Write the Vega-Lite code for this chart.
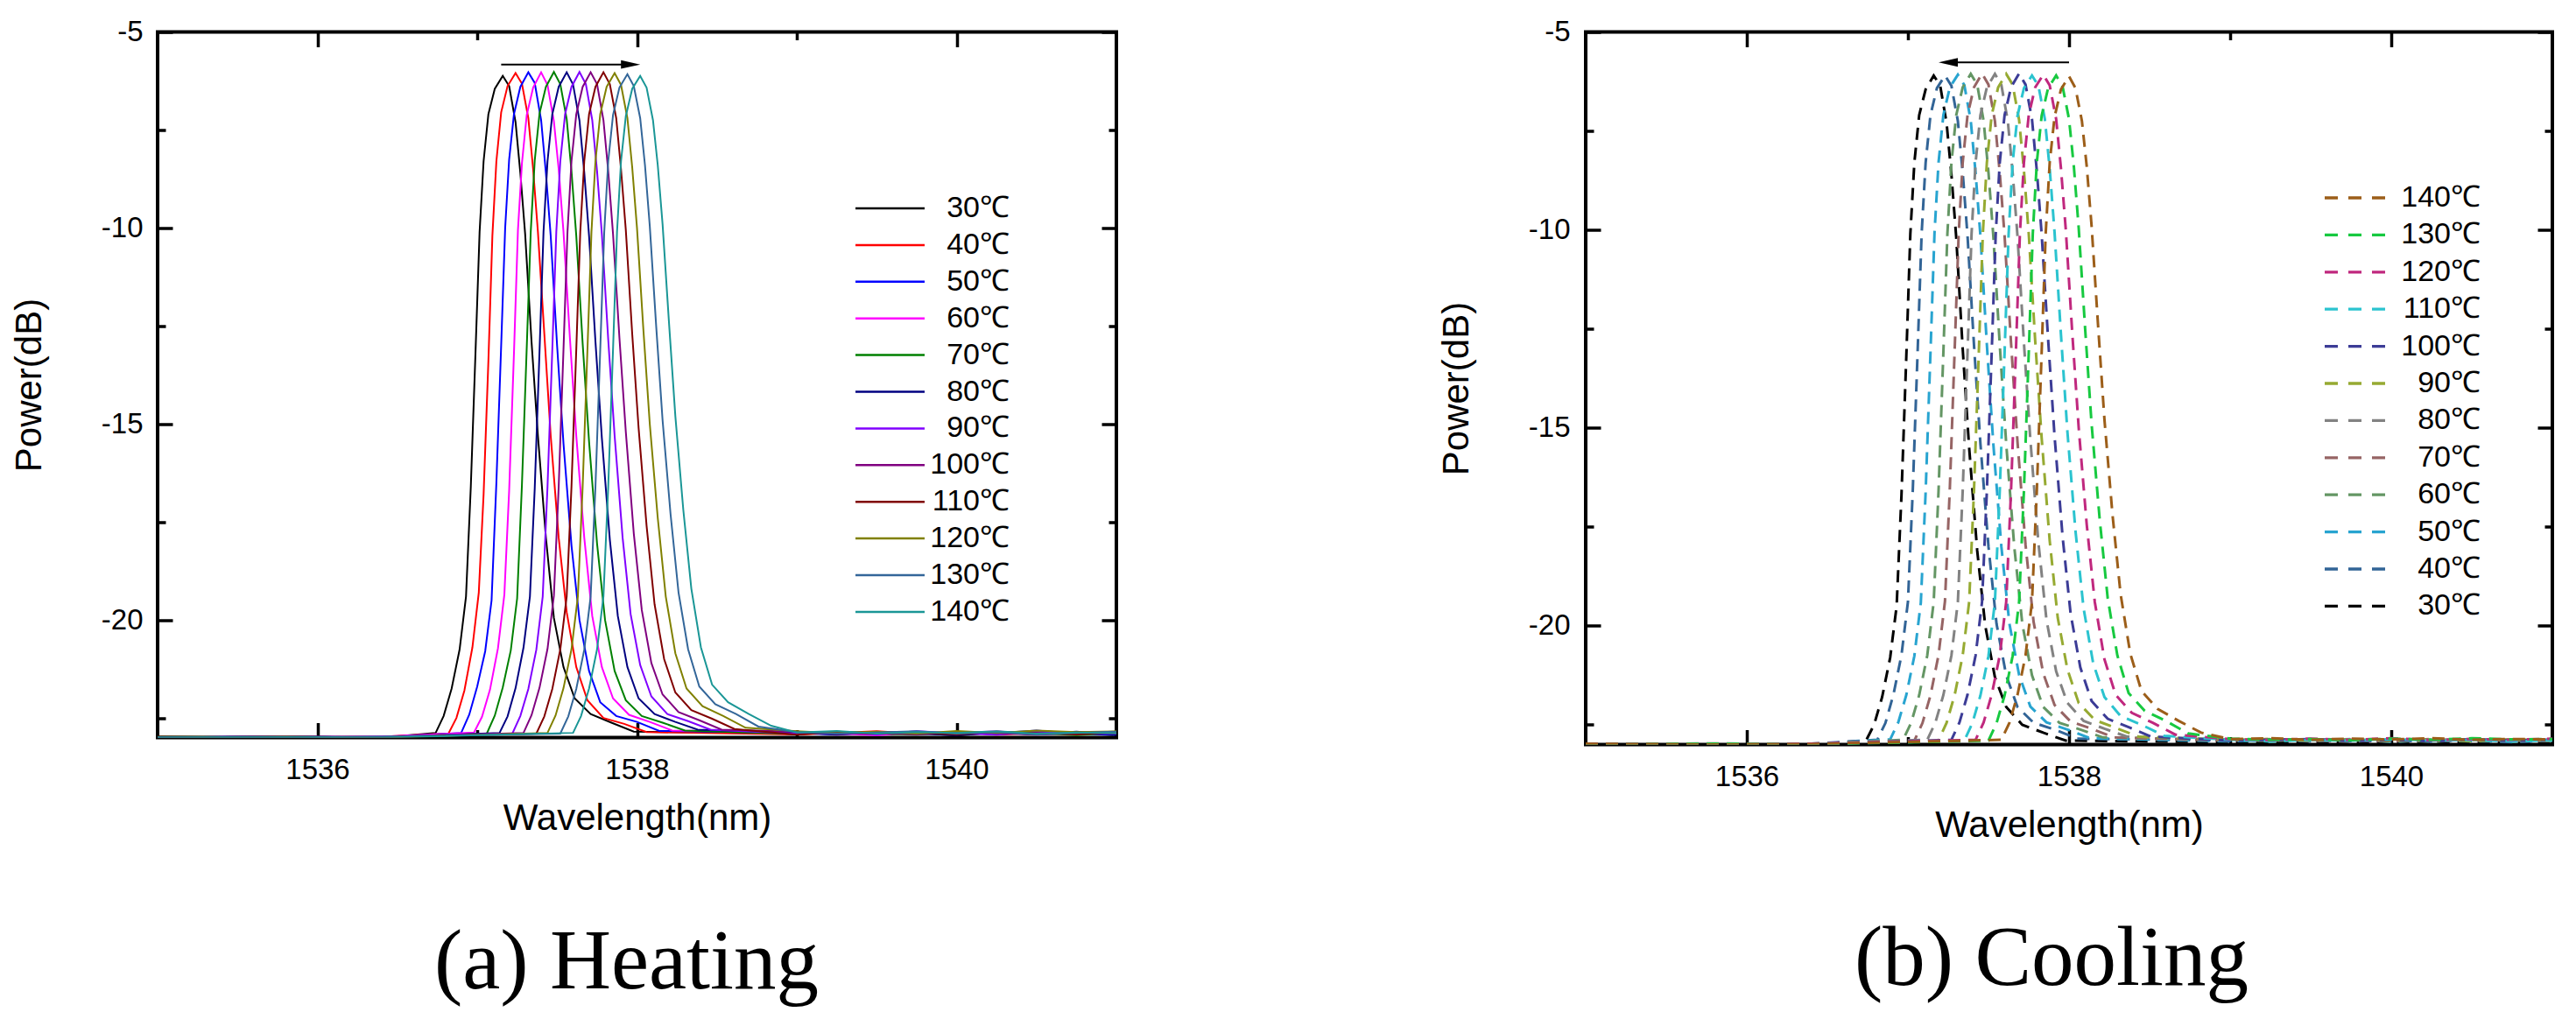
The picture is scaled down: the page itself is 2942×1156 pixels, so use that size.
{
"$schema":"https://vega.github.io/schema/vega-lite/v6.json",
"background":"white",
"padding":{"left":10,"top":18.5,"right":5,"bottom":5},
"spacing":361,
"config":{
 "view":{"stroke":"black","strokeWidth":4},
 "axis":{"domain":false,"grid":false,"tickColor":"black","tickWidth":3.5,"labelFont":"Liberation Sans","labelFontSize":33,"labelColor":"black","titleFont":"Liberation Sans","titleFontSize":42,"titleFontWeight":"normal","titleColor":"black","labelFlush":false,"labelOverlap":false},
 "legend":{"labelFont":"Liberation Sans","labelColor":"black"}
},
"resolve":{"scale":{"color":"independent"}},
"datasets":{
"arrA":[{"x1":1537.15,"x2":1537.93,"xh":1537.96,"y":-5.83}],
"arrB":[{"x1":1537.28,"x2":1538.0,"xh":1537.25,"y":-5.77}],
"heat":[
{"t":"30℃","w":1535.0,"p":-23.0},{"t":"30℃","w":1535.8,"p":-22.98},{"t":"30℃","w":1536.4,"p":-23.0},
{"t":"30℃","w":1536.74,"p":-22.88},{"t":"30℃","w":1536.79,"p":-22.45},{"t":"30℃","w":1536.84,"p":-21.75},{"t":"30℃","w":1536.89,"p":-20.75},{"t":"30℃","w":1536.93,"p":-19.4},{"t":"30℃","w":1536.96,"p":-16.6},{"t":"30℃","w":1536.99,"p":-13.1},{"t":"30℃","w":1537.015,"p":-10.1},{"t":"30℃","w":1537.04,"p":-8.3},{"t":"30℃","w":1537.07,"p":-7.1},{"t":"30℃","w":1537.11,"p":-6.45},{"t":"30℃","w":1537.16,"p":-6.12},{"t":"30℃","w":1537.2,"p":-6.38},{"t":"30℃","w":1537.24,"p":-7.3},{"t":"30℃","w":1537.27,"p":-8.6},{"t":"30℃","w":1537.3,"p":-10.15},{"t":"30℃","w":1537.34,"p":-12.9},{"t":"30℃","w":1537.38,"p":-15.3},{"t":"30℃","w":1537.43,"p":-17.9},{"t":"30℃","w":1537.48,"p":-19.95},{"t":"30℃","w":1537.54,"p":-21.2},{"t":"30℃","w":1537.61,"p":-22.0},{"t":"30℃","w":1537.71,"p":-22.4},{"t":"30℃","w":1537.84,"p":-22.62},{"t":"30℃","w":1537.98,"p":-22.85},
{"t":"30℃","w":1539.0,"p":-22.9},{"t":"30℃","w":1539.25,"p":-22.86},{"t":"30℃","w":1539.5,"p":-22.93},{"t":"30℃","w":1539.75,"p":-22.88},{"t":"30℃","w":1540.0,"p":-22.95},{"t":"30℃","w":1540.25,"p":-22.87},{"t":"30℃","w":1540.5,"p":-22.92},{"t":"30℃","w":1540.75,"p":-22.89},{"t":"30℃","w":1541.0,"p":-22.94},
{"t":"40℃","w":1535.0,"p":-22.99},{"t":"40℃","w":1535.8,"p":-23.0},{"t":"40℃","w":1536.4,"p":-22.98},
{"t":"40℃","w":1536.82,"p":-22.9},{"t":"40℃","w":1536.87,"p":-22.5},{"t":"40℃","w":1536.92,"p":-21.8},{"t":"40℃","w":1536.97,"p":-20.7},{"t":"40℃","w":1537.01,"p":-19.3},{"t":"40℃","w":1537.04,"p":-16.8},{"t":"40℃","w":1537.07,"p":-13.4},{"t":"40℃","w":1537.095,"p":-10.2},{"t":"40℃","w":1537.12,"p":-8.3},{"t":"40℃","w":1537.15,"p":-7.05},{"t":"40℃","w":1537.19,"p":-6.38},{"t":"40℃","w":1537.24,"p":-6.05},{"t":"40℃","w":1537.28,"p":-6.32},{"t":"40℃","w":1537.32,"p":-7.2},{"t":"40℃","w":1537.35,"p":-8.5},{"t":"40℃","w":1537.38,"p":-10.1},{"t":"40℃","w":1537.42,"p":-12.7},{"t":"40℃","w":1537.46,"p":-15.3},{"t":"40℃","w":1537.51,"p":-17.9},{"t":"40℃","w":1537.56,"p":-19.8},{"t":"40℃","w":1537.62,"p":-21.2},{"t":"40℃","w":1537.69,"p":-22.05},{"t":"40℃","w":1537.79,"p":-22.5},{"t":"40℃","w":1537.92,"p":-22.65},{"t":"40℃","w":1538.06,"p":-22.86},
{"t":"40℃","w":1539.0,"p":-22.92},{"t":"40℃","w":1539.25,"p":-22.88},{"t":"40℃","w":1539.5,"p":-22.84},{"t":"40℃","w":1539.75,"p":-22.9},{"t":"40℃","w":1540.0,"p":-22.86},{"t":"40℃","w":1540.25,"p":-22.93},{"t":"40℃","w":1540.5,"p":-22.88},{"t":"40℃","w":1540.75,"p":-22.91},{"t":"40℃","w":1541.0,"p":-22.87},
{"t":"50℃","w":1535.0,"p":-23.0},{"t":"50℃","w":1535.8,"p":-22.97},{"t":"50℃","w":1536.4,"p":-23.0},
{"t":"50℃","w":1536.9,"p":-22.88},{"t":"50℃","w":1536.95,"p":-22.42},{"t":"50℃","w":1537.0,"p":-21.7},{"t":"50℃","w":1537.05,"p":-20.8},{"t":"50℃","w":1537.09,"p":-19.5},{"t":"50℃","w":1537.12,"p":-16.5},{"t":"50℃","w":1537.15,"p":-13.0},{"t":"50℃","w":1537.175,"p":-10.0},{"t":"50℃","w":1537.2,"p":-8.25},{"t":"50℃","w":1537.23,"p":-7.1},{"t":"50℃","w":1537.27,"p":-6.4},{"t":"50℃","w":1537.32,"p":-6.03},{"t":"50℃","w":1537.36,"p":-6.3},{"t":"50℃","w":1537.4,"p":-7.25},{"t":"50℃","w":1537.43,"p":-8.6},{"t":"50℃","w":1537.46,"p":-10.2},{"t":"50℃","w":1537.5,"p":-13.0},{"t":"50℃","w":1537.54,"p":-15.5},{"t":"50℃","w":1537.59,"p":-18.1},{"t":"50℃","w":1537.64,"p":-20.0},{"t":"50℃","w":1537.7,"p":-21.3},{"t":"50℃","w":1537.77,"p":-22.1},{"t":"50℃","w":1537.87,"p":-22.45},{"t":"50℃","w":1538.0,"p":-22.6},{"t":"50℃","w":1538.14,"p":-22.83},
{"t":"50℃","w":1539.0,"p":-22.88},{"t":"50℃","w":1539.25,"p":-22.93},{"t":"50℃","w":1539.5,"p":-22.87},{"t":"50℃","w":1539.75,"p":-22.85},{"t":"50℃","w":1540.0,"p":-22.91},{"t":"50℃","w":1540.25,"p":-22.89},{"t":"50℃","w":1540.5,"p":-22.82},{"t":"50℃","w":1540.75,"p":-22.9},{"t":"50℃","w":1541.0,"p":-22.93},
{"t":"60℃","w":1535.0,"p":-23.0},{"t":"60℃","w":1535.8,"p":-22.99},{"t":"60℃","w":1536.4,"p":-22.98},
{"t":"60℃","w":1536.98,"p":-22.87},{"t":"60℃","w":1537.03,"p":-22.47},{"t":"60℃","w":1537.08,"p":-21.78},{"t":"60℃","w":1537.13,"p":-20.72},{"t":"60℃","w":1537.17,"p":-19.35},{"t":"60℃","w":1537.2,"p":-16.7},{"t":"60℃","w":1537.23,"p":-13.2},{"t":"60℃","w":1537.255,"p":-10.05},{"t":"60℃","w":1537.28,"p":-8.35},{"t":"60℃","w":1537.31,"p":-7.12},{"t":"60℃","w":1537.35,"p":-6.42},{"t":"60℃","w":1537.4,"p":-6.03},{"t":"60℃","w":1537.44,"p":-6.35},{"t":"60℃","w":1537.48,"p":-7.28},{"t":"60℃","w":1537.51,"p":-8.5},{"t":"60℃","w":1537.54,"p":-10.1},{"t":"60℃","w":1537.58,"p":-12.8},{"t":"60℃","w":1537.62,"p":-15.3},{"t":"60℃","w":1537.67,"p":-17.9},{"t":"60℃","w":1537.72,"p":-19.9},{"t":"60℃","w":1537.78,"p":-21.2},{"t":"60℃","w":1537.85,"p":-22.0},{"t":"60℃","w":1537.95,"p":-22.42},{"t":"60℃","w":1538.08,"p":-22.6},{"t":"60℃","w":1538.22,"p":-22.82},
{"t":"60℃","w":1539.0,"p":-22.86},{"t":"60℃","w":1539.25,"p":-22.9},{"t":"60℃","w":1539.5,"p":-22.94},{"t":"60℃","w":1539.75,"p":-22.87},{"t":"60℃","w":1540.0,"p":-22.89},{"t":"60℃","w":1540.25,"p":-22.84},{"t":"60℃","w":1540.5,"p":-22.92},{"t":"60℃","w":1540.75,"p":-22.86},{"t":"60℃","w":1541.0,"p":-22.9},
{"t":"70℃","w":1535.0,"p":-22.98},{"t":"70℃","w":1535.8,"p":-23.0},{"t":"70℃","w":1536.4,"p":-22.99},
{"t":"70℃","w":1537.06,"p":-22.9},{"t":"70℃","w":1537.11,"p":-22.44},{"t":"70℃","w":1537.16,"p":-21.72},{"t":"70℃","w":1537.21,"p":-20.78},{"t":"70℃","w":1537.25,"p":-19.45},{"t":"70℃","w":1537.28,"p":-16.55},{"t":"70℃","w":1537.31,"p":-13.05},{"t":"70℃","w":1537.335,"p":-10.1},{"t":"70℃","w":1537.36,"p":-8.28},{"t":"70℃","w":1537.39,"p":-7.08},{"t":"70℃","w":1537.43,"p":-6.4},{"t":"70℃","w":1537.48,"p":-6.02},{"t":"70℃","w":1537.52,"p":-6.33},{"t":"70℃","w":1537.56,"p":-7.22},{"t":"70℃","w":1537.59,"p":-8.55},{"t":"70℃","w":1537.62,"p":-10.2},{"t":"70℃","w":1537.66,"p":-12.95},{"t":"70℃","w":1537.7,"p":-15.45},{"t":"70℃","w":1537.75,"p":-18.05},{"t":"70℃","w":1537.8,"p":-20.0},{"t":"70℃","w":1537.86,"p":-21.3},{"t":"70℃","w":1537.93,"p":-22.05},{"t":"70℃","w":1538.03,"p":-22.45},{"t":"70℃","w":1538.16,"p":-22.62},{"t":"70℃","w":1538.3,"p":-22.82},
{"t":"70℃","w":1539.0,"p":-22.91},{"t":"70℃","w":1539.25,"p":-22.85},{"t":"70℃","w":1539.5,"p":-22.89},{"t":"70℃","w":1539.75,"p":-22.93},{"t":"70℃","w":1540.0,"p":-22.86},{"t":"70℃","w":1540.25,"p":-22.9},{"t":"70℃","w":1540.5,"p":-22.88},{"t":"70℃","w":1540.75,"p":-22.94},{"t":"70℃","w":1541.0,"p":-22.87},
{"t":"80℃","w":1535.0,"p":-23.0},{"t":"80℃","w":1535.8,"p":-22.98},{"t":"80℃","w":1536.4,"p":-23.0},
{"t":"80℃","w":1537.14,"p":-22.88},{"t":"80℃","w":1537.19,"p":-22.46},{"t":"80℃","w":1537.24,"p":-21.74},{"t":"80℃","w":1537.29,"p":-20.7},{"t":"80℃","w":1537.33,"p":-19.4},{"t":"80℃","w":1537.36,"p":-16.65},{"t":"80℃","w":1537.39,"p":-13.15},{"t":"80℃","w":1537.415,"p":-10.1},{"t":"80℃","w":1537.44,"p":-8.3},{"t":"80℃","w":1537.47,"p":-7.1},{"t":"80℃","w":1537.51,"p":-6.4},{"t":"80℃","w":1537.56,"p":-6.03},{"t":"80℃","w":1537.6,"p":-6.34},{"t":"80℃","w":1537.64,"p":-7.26},{"t":"80℃","w":1537.67,"p":-8.58},{"t":"80℃","w":1537.7,"p":-10.2},{"t":"80℃","w":1537.74,"p":-12.9},{"t":"80℃","w":1537.78,"p":-15.35},{"t":"80℃","w":1537.83,"p":-17.95},{"t":"80℃","w":1537.88,"p":-19.9},{"t":"80℃","w":1537.94,"p":-21.2},{"t":"80℃","w":1538.01,"p":-22.0},{"t":"80℃","w":1538.11,"p":-22.4},{"t":"80℃","w":1538.24,"p":-22.6},{"t":"80℃","w":1538.38,"p":-22.8},
{"t":"80℃","w":1539.0,"p":-22.87},{"t":"80℃","w":1539.25,"p":-22.92},{"t":"80℃","w":1539.5,"p":-22.86},{"t":"80℃","w":1539.75,"p":-22.9},{"t":"80℃","w":1540.0,"p":-22.94},{"t":"80℃","w":1540.25,"p":-22.87},{"t":"80℃","w":1540.5,"p":-22.91},{"t":"80℃","w":1540.75,"p":-22.85},{"t":"80℃","w":1541.0,"p":-22.92},
{"t":"90℃","w":1535.0,"p":-22.99},{"t":"90℃","w":1535.8,"p":-23.0},{"t":"90℃","w":1536.4,"p":-22.98},
{"t":"90℃","w":1537.22,"p":-22.9},{"t":"90℃","w":1537.27,"p":-22.45},{"t":"90℃","w":1537.32,"p":-21.76},{"t":"90℃","w":1537.37,"p":-20.76},{"t":"90℃","w":1537.41,"p":-19.4},{"t":"90℃","w":1537.44,"p":-16.6},{"t":"90℃","w":1537.47,"p":-13.1},{"t":"90℃","w":1537.495,"p":-10.1},{"t":"90℃","w":1537.52,"p":-8.3},{"t":"90℃","w":1537.55,"p":-7.1},{"t":"90℃","w":1537.59,"p":-6.4},{"t":"90℃","w":1537.64,"p":-6.02},{"t":"90℃","w":1537.68,"p":-6.33},{"t":"90℃","w":1537.72,"p":-7.25},{"t":"90℃","w":1537.75,"p":-8.55},{"t":"90℃","w":1537.78,"p":-10.15},{"t":"90℃","w":1537.82,"p":-12.85},{"t":"90℃","w":1537.86,"p":-15.3},{"t":"90℃","w":1537.91,"p":-17.9},{"t":"90℃","w":1537.96,"p":-19.85},{"t":"90℃","w":1538.02,"p":-21.15},{"t":"90℃","w":1538.09,"p":-21.95},{"t":"90℃","w":1538.19,"p":-22.4},{"t":"90℃","w":1538.32,"p":-22.58},{"t":"90℃","w":1538.46,"p":-22.8},
{"t":"90℃","w":1539.0,"p":-22.9},{"t":"90℃","w":1539.25,"p":-22.87},{"t":"90℃","w":1539.5,"p":-22.92},{"t":"90℃","w":1539.75,"p":-22.84},{"t":"90℃","w":1540.0,"p":-22.89},{"t":"90℃","w":1540.25,"p":-22.93},{"t":"90℃","w":1540.5,"p":-22.86},{"t":"90℃","w":1540.75,"p":-22.9},{"t":"90℃","w":1541.0,"p":-22.88},
{"t":"100℃","w":1535.0,"p":-23.0},{"t":"100℃","w":1535.8,"p":-22.97},{"t":"100℃","w":1536.4,"p":-23.0},
{"t":"100℃","w":1537.29,"p":-22.88},{"t":"100℃","w":1537.34,"p":-22.43},{"t":"100℃","w":1537.39,"p":-21.73},{"t":"100℃","w":1537.44,"p":-20.74},{"t":"100℃","w":1537.48,"p":-19.38},{"t":"100℃","w":1537.51,"p":-16.6},{"t":"100℃","w":1537.54,"p":-13.1},{"t":"100℃","w":1537.565,"p":-10.1},{"t":"100℃","w":1537.59,"p":-8.3},{"t":"100℃","w":1537.62,"p":-7.1},{"t":"100℃","w":1537.66,"p":-6.4},{"t":"100℃","w":1537.71,"p":-6.03},{"t":"100℃","w":1537.75,"p":-6.33},{"t":"100℃","w":1537.79,"p":-7.25},{"t":"100℃","w":1537.82,"p":-8.55},{"t":"100℃","w":1537.85,"p":-10.15},{"t":"100℃","w":1537.89,"p":-12.8},{"t":"100℃","w":1537.93,"p":-15.2},{"t":"100℃","w":1537.98,"p":-17.8},{"t":"100℃","w":1538.03,"p":-19.75},{"t":"100℃","w":1538.09,"p":-21.1},{"t":"100℃","w":1538.16,"p":-21.9},{"t":"100℃","w":1538.26,"p":-22.35},{"t":"100℃","w":1538.39,"p":-22.56},{"t":"100℃","w":1538.53,"p":-22.8},
{"t":"100℃","w":1539.0,"p":-22.85},{"t":"100℃","w":1539.25,"p":-22.91},{"t":"100℃","w":1539.5,"p":-22.88},{"t":"100℃","w":1539.75,"p":-22.92},{"t":"100℃","w":1540.0,"p":-22.86},{"t":"100℃","w":1540.25,"p":-22.89},{"t":"100℃","w":1540.5,"p":-22.93},{"t":"100℃","w":1540.75,"p":-22.87},{"t":"100℃","w":1541.0,"p":-22.9},
{"t":"110℃","w":1535.0,"p":-22.98},{"t":"110℃","w":1535.8,"p":-23.0},{"t":"110℃","w":1536.4,"p":-22.99},
{"t":"110℃","w":1537.37,"p":-22.9},{"t":"110℃","w":1537.42,"p":-22.46},{"t":"110℃","w":1537.47,"p":-21.76},{"t":"110℃","w":1537.52,"p":-20.75},{"t":"110℃","w":1537.56,"p":-19.4},{"t":"110℃","w":1537.59,"p":-16.6},{"t":"110℃","w":1537.62,"p":-13.1},{"t":"110℃","w":1537.645,"p":-10.1},{"t":"110℃","w":1537.67,"p":-8.3},{"t":"110℃","w":1537.7,"p":-7.1},{"t":"110℃","w":1537.74,"p":-6.4},{"t":"110℃","w":1537.79,"p":-6.03},{"t":"110℃","w":1537.83,"p":-6.33},{"t":"110℃","w":1537.87,"p":-7.2},{"t":"110℃","w":1537.9,"p":-8.5},{"t":"110℃","w":1537.93,"p":-10.05},{"t":"110℃","w":1537.97,"p":-12.7},{"t":"110℃","w":1538.01,"p":-15.1},{"t":"110℃","w":1538.06,"p":-17.6},{"t":"110℃","w":1538.11,"p":-19.6},{"t":"110℃","w":1538.17,"p":-21.0},{"t":"110℃","w":1538.24,"p":-21.85},{"t":"110℃","w":1538.34,"p":-22.3},{"t":"110℃","w":1538.47,"p":-22.52},{"t":"110℃","w":1538.61,"p":-22.78},
{"t":"110℃","w":1539.0,"p":-22.93},{"t":"110℃","w":1539.25,"p":-22.86},{"t":"110℃","w":1539.5,"p":-22.9},{"t":"110℃","w":1539.75,"p":-22.87},{"t":"110℃","w":1540.0,"p":-22.92},{"t":"110℃","w":1540.25,"p":-22.85},{"t":"110℃","w":1540.5,"p":-22.89},{"t":"110℃","w":1540.75,"p":-22.92},{"t":"110℃","w":1541.0,"p":-22.86},
{"t":"120℃","w":1535.0,"p":-23.0},{"t":"120℃","w":1535.8,"p":-22.98},{"t":"120℃","w":1536.4,"p":-23.0},
{"t":"120℃","w":1537.44,"p":-22.88},{"t":"120℃","w":1537.49,"p":-22.44},{"t":"120℃","w":1537.54,"p":-21.74},{"t":"120℃","w":1537.59,"p":-20.75},{"t":"120℃","w":1537.63,"p":-19.4},{"t":"120℃","w":1537.66,"p":-16.6},{"t":"120℃","w":1537.69,"p":-13.1},{"t":"120℃","w":1537.715,"p":-10.1},{"t":"120℃","w":1537.74,"p":-8.3},{"t":"120℃","w":1537.77,"p":-7.1},{"t":"120℃","w":1537.81,"p":-6.4},{"t":"120℃","w":1537.86,"p":-6.05},{"t":"120℃","w":1537.9,"p":-6.35},{"t":"120℃","w":1537.94,"p":-7.2},{"t":"120℃","w":1537.97,"p":-8.45},{"t":"120℃","w":1538.0,"p":-10.0},{"t":"120℃","w":1538.04,"p":-12.6},{"t":"120℃","w":1538.08,"p":-15.0},{"t":"120℃","w":1538.13,"p":-17.4},{"t":"120℃","w":1538.18,"p":-19.4},{"t":"120℃","w":1538.24,"p":-20.85},{"t":"120℃","w":1538.31,"p":-21.75},{"t":"120℃","w":1538.41,"p":-22.2},{"t":"120℃","w":1538.54,"p":-22.45},{"t":"120℃","w":1538.68,"p":-22.75},
{"t":"120℃","w":1539.0,"p":-22.84},{"t":"120℃","w":1539.25,"p":-22.89},{"t":"120℃","w":1539.5,"p":-22.85},{"t":"120℃","w":1539.75,"p":-22.9},{"t":"120℃","w":1540.0,"p":-22.83},{"t":"120℃","w":1540.25,"p":-22.88},{"t":"120℃","w":1540.5,"p":-22.82},{"t":"120℃","w":1540.75,"p":-22.86},{"t":"120℃","w":1541.0,"p":-22.84},
{"t":"130℃","w":1535.0,"p":-22.99},{"t":"130℃","w":1535.8,"p":-23.0},{"t":"130℃","w":1536.4,"p":-22.98},
{"t":"130℃","w":1537.52,"p":-22.9},{"t":"130℃","w":1537.57,"p":-22.46},{"t":"130℃","w":1537.62,"p":-21.76},{"t":"130℃","w":1537.67,"p":-20.76},{"t":"130℃","w":1537.71,"p":-19.4},{"t":"130℃","w":1537.74,"p":-16.6},{"t":"130℃","w":1537.77,"p":-13.1},{"t":"130℃","w":1537.795,"p":-10.1},{"t":"130℃","w":1537.82,"p":-8.3},{"t":"130℃","w":1537.85,"p":-7.12},{"t":"130℃","w":1537.89,"p":-6.42},{"t":"130℃","w":1537.94,"p":-6.08},{"t":"130℃","w":1537.98,"p":-6.38},{"t":"130℃","w":1538.02,"p":-7.2},{"t":"130℃","w":1538.05,"p":-8.4},{"t":"130℃","w":1538.08,"p":-9.95},{"t":"130℃","w":1538.12,"p":-12.5},{"t":"130℃","w":1538.16,"p":-14.9},{"t":"130℃","w":1538.21,"p":-17.3},{"t":"130℃","w":1538.26,"p":-19.3},{"t":"130℃","w":1538.32,"p":-20.75},{"t":"130℃","w":1538.39,"p":-21.7},{"t":"130℃","w":1538.49,"p":-22.15},{"t":"130℃","w":1538.62,"p":-22.4},{"t":"130℃","w":1538.76,"p":-22.72},
{"t":"130℃","w":1539.0,"p":-22.86},{"t":"130℃","w":1539.25,"p":-22.9},{"t":"130℃","w":1539.5,"p":-22.87},{"t":"130℃","w":1539.75,"p":-22.84},{"t":"130℃","w":1540.0,"p":-22.9},{"t":"130℃","w":1540.25,"p":-22.86},{"t":"130℃","w":1540.5,"p":-22.92},{"t":"130℃","w":1540.75,"p":-22.88},{"t":"130℃","w":1541.0,"p":-22.85},
{"t":"140℃","w":1535.0,"p":-23.0},{"t":"140℃","w":1535.8,"p":-22.99},{"t":"140℃","w":1536.4,"p":-23.0},
{"t":"140℃","w":1537.6,"p":-22.88},{"t":"140℃","w":1537.65,"p":-22.45},{"t":"140℃","w":1537.7,"p":-21.75},{"t":"140℃","w":1537.75,"p":-20.75},{"t":"140℃","w":1537.79,"p":-19.4},{"t":"140℃","w":1537.82,"p":-16.6},{"t":"140℃","w":1537.85,"p":-13.1},{"t":"140℃","w":1537.875,"p":-10.1},{"t":"140℃","w":1537.9,"p":-8.3},{"t":"140℃","w":1537.93,"p":-7.15},{"t":"140℃","w":1537.97,"p":-6.45},{"t":"140℃","w":1538.02,"p":-6.12},{"t":"140℃","w":1538.06,"p":-6.42},{"t":"140℃","w":1538.1,"p":-7.25},{"t":"140℃","w":1538.13,"p":-8.4},{"t":"140℃","w":1538.16,"p":-9.9},{"t":"140℃","w":1538.2,"p":-12.4},{"t":"140℃","w":1538.24,"p":-14.8},{"t":"140℃","w":1538.29,"p":-17.2},{"t":"140℃","w":1538.34,"p":-19.2},{"t":"140℃","w":1538.4,"p":-20.7},{"t":"140℃","w":1538.47,"p":-21.65},{"t":"140℃","w":1538.57,"p":-22.1},{"t":"140℃","w":1538.7,"p":-22.4},{"t":"140℃","w":1538.84,"p":-22.7},
{"t":"140℃","w":1539.0,"p":-22.87},{"t":"140℃","w":1539.25,"p":-22.83},{"t":"140℃","w":1539.5,"p":-22.9},{"t":"140℃","w":1539.75,"p":-22.86},{"t":"140℃","w":1540.0,"p":-22.88},{"t":"140℃","w":1540.25,"p":-22.84},{"t":"140℃","w":1540.5,"p":-22.9},{"t":"140℃","w":1540.75,"p":-22.87},{"t":"140℃","w":1541.0,"p":-22.89}
],
"cool":[
{"t":"30℃","w":1535.0,"p":-23.0},{"t":"30℃","w":1535.8,"p":-22.99},{"t":"30℃","w":1536.4,"p":-23.0},
{"t":"30℃","w":1536.74,"p":-22.9},{"t":"30℃","w":1536.79,"p":-22.5},{"t":"30℃","w":1536.84,"p":-21.8},{"t":"30℃","w":1536.89,"p":-20.8},{"t":"30℃","w":1536.93,"p":-19.5},{"t":"30℃","w":1536.96,"p":-16.7},{"t":"30℃","w":1536.99,"p":-13.2},{"t":"30℃","w":1537.015,"p":-10.1},{"t":"30℃","w":1537.04,"p":-8.3},{"t":"30℃","w":1537.07,"p":-7.1},{"t":"30℃","w":1537.11,"p":-6.45},{"t":"30℃","w":1537.16,"p":-6.1},{"t":"30℃","w":1537.2,"p":-6.35},{"t":"30℃","w":1537.24,"p":-7.3},{"t":"30℃","w":1537.27,"p":-8.6},{"t":"30℃","w":1537.3,"p":-10.2},{"t":"30℃","w":1537.34,"p":-13.0},{"t":"30℃","w":1537.38,"p":-15.5},{"t":"30℃","w":1537.43,"p":-18.1},{"t":"30℃","w":1537.48,"p":-20.0},{"t":"30℃","w":1537.54,"p":-21.3},{"t":"30℃","w":1537.61,"p":-22.05},{"t":"30℃","w":1537.71,"p":-22.5},{"t":"30℃","w":1537.84,"p":-22.7},{"t":"30℃","w":1537.98,"p":-22.9},
{"t":"30℃","w":1539.0,"p":-22.94},{"t":"30℃","w":1539.25,"p":-22.96},{"t":"30℃","w":1539.5,"p":-22.93},{"t":"30℃","w":1539.75,"p":-22.95},{"t":"30℃","w":1540.0,"p":-22.97},{"t":"30℃","w":1540.25,"p":-22.94},{"t":"30℃","w":1540.5,"p":-22.96},{"t":"30℃","w":1540.75,"p":-22.95},{"t":"30℃","w":1541.0,"p":-22.97},
{"t":"40℃","w":1535.0,"p":-22.99},{"t":"40℃","w":1535.8,"p":-23.0},{"t":"40℃","w":1536.4,"p":-22.98},
{"t":"40℃","w":1536.81,"p":-22.88},{"t":"40℃","w":1536.86,"p":-22.46},{"t":"40℃","w":1536.91,"p":-21.74},{"t":"40℃","w":1536.96,"p":-20.74},{"t":"40℃","w":1537.0,"p":-19.4},{"t":"40℃","w":1537.03,"p":-16.6},{"t":"40℃","w":1537.06,"p":-13.1},{"t":"40℃","w":1537.085,"p":-10.1},{"t":"40℃","w":1537.11,"p":-8.3},{"t":"40℃","w":1537.14,"p":-7.1},{"t":"40℃","w":1537.18,"p":-6.42},{"t":"40℃","w":1537.23,"p":-6.1},{"t":"40℃","w":1537.27,"p":-6.36},{"t":"40℃","w":1537.31,"p":-7.25},{"t":"40℃","w":1537.34,"p":-8.55},{"t":"40℃","w":1537.37,"p":-10.15},{"t":"40℃","w":1537.41,"p":-12.9},{"t":"40℃","w":1537.45,"p":-15.4},{"t":"40℃","w":1537.5,"p":-18.0},{"t":"40℃","w":1537.55,"p":-19.95},{"t":"40℃","w":1537.61,"p":-21.25},{"t":"40℃","w":1537.68,"p":-22.05},{"t":"40℃","w":1537.78,"p":-22.45},{"t":"40℃","w":1537.91,"p":-22.62},{"t":"40℃","w":1538.05,"p":-22.85},
{"t":"40℃","w":1539.0,"p":-22.9},{"t":"40℃","w":1539.25,"p":-22.87},{"t":"40℃","w":1539.5,"p":-22.92},{"t":"40℃","w":1539.75,"p":-22.89},{"t":"40℃","w":1540.0,"p":-22.93},{"t":"40℃","w":1540.25,"p":-22.88},{"t":"40℃","w":1540.5,"p":-22.91},{"t":"40℃","w":1540.75,"p":-22.94},{"t":"40℃","w":1541.0,"p":-22.9},
{"t":"50℃","w":1535.0,"p":-23.0},{"t":"50℃","w":1535.8,"p":-22.98},{"t":"50℃","w":1536.4,"p":-23.0},
{"t":"50℃","w":1536.89,"p":-22.87},{"t":"50℃","w":1536.94,"p":-22.44},{"t":"50℃","w":1536.99,"p":-21.75},{"t":"50℃","w":1537.04,"p":-20.76},{"t":"50℃","w":1537.08,"p":-19.42},{"t":"50℃","w":1537.11,"p":-16.62},{"t":"50℃","w":1537.14,"p":-13.1},{"t":"50℃","w":1537.165,"p":-10.08},{"t":"50℃","w":1537.19,"p":-8.3},{"t":"50℃","w":1537.22,"p":-7.1},{"t":"50℃","w":1537.26,"p":-6.4},{"t":"50℃","w":1537.31,"p":-6.08},{"t":"50℃","w":1537.35,"p":-6.34},{"t":"50℃","w":1537.39,"p":-7.24},{"t":"50℃","w":1537.42,"p":-8.56},{"t":"50℃","w":1537.45,"p":-10.15},{"t":"50℃","w":1537.49,"p":-12.9},{"t":"50℃","w":1537.53,"p":-15.4},{"t":"50℃","w":1537.58,"p":-18.0},{"t":"50℃","w":1537.63,"p":-19.95},{"t":"50℃","w":1537.69,"p":-21.24},{"t":"50℃","w":1537.76,"p":-22.04},{"t":"50℃","w":1537.86,"p":-22.44},{"t":"50℃","w":1537.99,"p":-22.62},{"t":"50℃","w":1538.13,"p":-22.84},
{"t":"50℃","w":1539.0,"p":-22.92},{"t":"50℃","w":1539.25,"p":-22.88},{"t":"50℃","w":1539.5,"p":-22.9},{"t":"50℃","w":1539.75,"p":-22.86},{"t":"50℃","w":1540.0,"p":-22.93},{"t":"50℃","w":1540.25,"p":-22.89},{"t":"50℃","w":1540.5,"p":-22.92},{"t":"50℃","w":1540.75,"p":-22.88},{"t":"50℃","w":1541.0,"p":-22.91},
{"t":"60℃","w":1535.0,"p":-22.98},{"t":"60℃","w":1535.8,"p":-23.0},{"t":"60℃","w":1536.4,"p":-22.99},
{"t":"60℃","w":1536.97,"p":-22.88},{"t":"60℃","w":1537.02,"p":-22.45},{"t":"60℃","w":1537.07,"p":-21.75},{"t":"60℃","w":1537.12,"p":-20.75},{"t":"60℃","w":1537.16,"p":-19.4},{"t":"60℃","w":1537.19,"p":-16.6},{"t":"60℃","w":1537.22,"p":-13.1},{"t":"60℃","w":1537.245,"p":-10.1},{"t":"60℃","w":1537.27,"p":-8.3},{"t":"60℃","w":1537.3,"p":-7.1},{"t":"60℃","w":1537.34,"p":-6.4},{"t":"60℃","w":1537.39,"p":-6.06},{"t":"60℃","w":1537.43,"p":-6.33},{"t":"60℃","w":1537.47,"p":-7.25},{"t":"60℃","w":1537.5,"p":-8.55},{"t":"60℃","w":1537.53,"p":-10.15},{"t":"60℃","w":1537.57,"p":-12.9},{"t":"60℃","w":1537.61,"p":-15.4},{"t":"60℃","w":1537.66,"p":-18.0},{"t":"60℃","w":1537.71,"p":-19.95},{"t":"60℃","w":1537.77,"p":-21.25},{"t":"60℃","w":1537.84,"p":-22.05},{"t":"60℃","w":1537.94,"p":-22.45},{"t":"60℃","w":1538.07,"p":-22.62},{"t":"60℃","w":1538.21,"p":-22.82},
{"t":"60℃","w":1539.0,"p":-22.88},{"t":"60℃","w":1539.25,"p":-22.91},{"t":"60℃","w":1539.5,"p":-22.86},{"t":"60℃","w":1539.75,"p":-22.9},{"t":"60℃","w":1540.0,"p":-22.88},{"t":"60℃","w":1540.25,"p":-22.93},{"t":"60℃","w":1540.5,"p":-22.87},{"t":"60℃","w":1540.75,"p":-22.9},{"t":"60℃","w":1541.0,"p":-22.89},
{"t":"70℃","w":1535.0,"p":-23.0},{"t":"70℃","w":1535.8,"p":-22.97},{"t":"70℃","w":1536.4,"p":-23.0},
{"t":"70℃","w":1537.04,"p":-22.9},{"t":"70℃","w":1537.09,"p":-22.46},{"t":"70℃","w":1537.14,"p":-21.76},{"t":"70℃","w":1537.19,"p":-20.74},{"t":"70℃","w":1537.23,"p":-19.38},{"t":"70℃","w":1537.26,"p":-16.55},{"t":"70℃","w":1537.29,"p":-13.05},{"t":"70℃","w":1537.315,"p":-10.1},{"t":"70℃","w":1537.34,"p":-8.3},{"t":"70℃","w":1537.37,"p":-7.1},{"t":"70℃","w":1537.41,"p":-6.4},{"t":"70℃","w":1537.46,"p":-6.05},{"t":"70℃","w":1537.5,"p":-6.33},{"t":"70℃","w":1537.54,"p":-7.25},{"t":"70℃","w":1537.57,"p":-8.55},{"t":"70℃","w":1537.6,"p":-10.15},{"t":"70℃","w":1537.64,"p":-12.85},{"t":"70℃","w":1537.68,"p":-15.35},{"t":"70℃","w":1537.73,"p":-17.95},{"t":"70℃","w":1537.78,"p":-19.9},{"t":"70℃","w":1537.84,"p":-21.2},{"t":"70℃","w":1537.91,"p":-22.0},{"t":"70℃","w":1538.01,"p":-22.42},{"t":"70℃","w":1538.14,"p":-22.6},{"t":"70℃","w":1538.28,"p":-22.82},
{"t":"70℃","w":1539.0,"p":-22.9},{"t":"70℃","w":1539.25,"p":-22.86},{"t":"70℃","w":1539.5,"p":-22.91},{"t":"70℃","w":1539.75,"p":-22.88},{"t":"70℃","w":1540.0,"p":-22.92},{"t":"70℃","w":1540.25,"p":-22.86},{"t":"70℃","w":1540.5,"p":-22.9},{"t":"70℃","w":1540.75,"p":-22.87},{"t":"70℃","w":1541.0,"p":-22.91},
{"t":"80℃","w":1535.0,"p":-22.99},{"t":"80℃","w":1535.8,"p":-23.0},{"t":"80℃","w":1536.4,"p":-22.98},
{"t":"80℃","w":1537.12,"p":-22.88},{"t":"80℃","w":1537.17,"p":-22.45},{"t":"80℃","w":1537.22,"p":-21.75},{"t":"80℃","w":1537.27,"p":-20.75},{"t":"80℃","w":1537.31,"p":-19.4},{"t":"80℃","w":1537.34,"p":-16.6},{"t":"80℃","w":1537.37,"p":-13.1},{"t":"80℃","w":1537.395,"p":-10.1},{"t":"80℃","w":1537.42,"p":-8.3},{"t":"80℃","w":1537.45,"p":-7.1},{"t":"80℃","w":1537.49,"p":-6.4},{"t":"80℃","w":1537.54,"p":-6.06},{"t":"80℃","w":1537.58,"p":-6.34},{"t":"80℃","w":1537.62,"p":-7.25},{"t":"80℃","w":1537.65,"p":-8.55},{"t":"80℃","w":1537.68,"p":-10.15},{"t":"80℃","w":1537.72,"p":-12.85},{"t":"80℃","w":1537.76,"p":-15.3},{"t":"80℃","w":1537.81,"p":-17.9},{"t":"80℃","w":1537.86,"p":-19.85},{"t":"80℃","w":1537.92,"p":-21.15},{"t":"80℃","w":1537.99,"p":-21.95},{"t":"80℃","w":1538.09,"p":-22.4},{"t":"80℃","w":1538.22,"p":-22.6},{"t":"80℃","w":1538.36,"p":-22.8},
{"t":"80℃","w":1539.0,"p":-22.87},{"t":"80℃","w":1539.25,"p":-22.9},{"t":"80℃","w":1539.5,"p":-22.88},{"t":"80℃","w":1539.75,"p":-22.93},{"t":"80℃","w":1540.0,"p":-22.87},{"t":"80℃","w":1540.25,"p":-22.9},{"t":"80℃","w":1540.5,"p":-22.86},{"t":"80℃","w":1540.75,"p":-22.91},{"t":"80℃","w":1541.0,"p":-22.88},
{"t":"90℃","w":1535.0,"p":-23.0},{"t":"90℃","w":1535.8,"p":-22.98},{"t":"90℃","w":1536.4,"p":-23.0},
{"t":"90℃","w":1537.19,"p":-22.9},{"t":"90℃","w":1537.24,"p":-22.45},{"t":"90℃","w":1537.29,"p":-21.75},{"t":"90℃","w":1537.34,"p":-20.75},{"t":"90℃","w":1537.38,"p":-19.4},{"t":"90℃","w":1537.41,"p":-16.6},{"t":"90℃","w":1537.44,"p":-13.1},{"t":"90℃","w":1537.465,"p":-10.1},{"t":"90℃","w":1537.49,"p":-8.3},{"t":"90℃","w":1537.52,"p":-7.1},{"t":"90℃","w":1537.56,"p":-6.4},{"t":"90℃","w":1537.61,"p":-6.06},{"t":"90℃","w":1537.65,"p":-6.33},{"t":"90℃","w":1537.69,"p":-7.22},{"t":"90℃","w":1537.72,"p":-8.5},{"t":"90℃","w":1537.75,"p":-10.1},{"t":"90℃","w":1537.79,"p":-12.8},{"t":"90℃","w":1537.83,"p":-15.25},{"t":"90℃","w":1537.88,"p":-17.85},{"t":"90℃","w":1537.93,"p":-19.8},{"t":"90℃","w":1537.99,"p":-21.1},{"t":"90℃","w":1538.06,"p":-21.95},{"t":"90℃","w":1538.16,"p":-22.38},{"t":"90℃","w":1538.29,"p":-22.58},{"t":"90℃","w":1538.43,"p":-22.8},
{"t":"90℃","w":1539.0,"p":-22.89},{"t":"90℃","w":1539.25,"p":-22.86},{"t":"90℃","w":1539.5,"p":-22.9},{"t":"90℃","w":1539.75,"p":-22.87},{"t":"90℃","w":1540.0,"p":-22.91},{"t":"90℃","w":1540.25,"p":-22.88},{"t":"90℃","w":1540.5,"p":-22.92},{"t":"90℃","w":1540.75,"p":-22.87},{"t":"90℃","w":1541.0,"p":-22.9},
{"t":"100℃","w":1535.0,"p":-22.98},{"t":"100℃","w":1535.8,"p":-23.0},{"t":"100℃","w":1536.4,"p":-22.99},
{"t":"100℃","w":1537.27,"p":-22.88},{"t":"100℃","w":1537.32,"p":-22.44},{"t":"100℃","w":1537.37,"p":-21.74},{"t":"100℃","w":1537.42,"p":-20.75},{"t":"100℃","w":1537.46,"p":-19.4},{"t":"100℃","w":1537.49,"p":-16.6},{"t":"100℃","w":1537.52,"p":-13.1},{"t":"100℃","w":1537.545,"p":-10.1},{"t":"100℃","w":1537.57,"p":-8.3},{"t":"100℃","w":1537.6,"p":-7.1},{"t":"100℃","w":1537.64,"p":-6.4},{"t":"100℃","w":1537.69,"p":-6.05},{"t":"100℃","w":1537.73,"p":-6.33},{"t":"100℃","w":1537.77,"p":-7.2},{"t":"100℃","w":1537.8,"p":-8.5},{"t":"100℃","w":1537.83,"p":-10.1},{"t":"100℃","w":1537.87,"p":-12.75},{"t":"100℃","w":1537.91,"p":-15.2},{"t":"100℃","w":1537.96,"p":-17.75},{"t":"100℃","w":1538.01,"p":-19.7},{"t":"100℃","w":1538.07,"p":-21.05},{"t":"100℃","w":1538.14,"p":-21.9},{"t":"100℃","w":1538.24,"p":-22.35},{"t":"100℃","w":1538.37,"p":-22.56},{"t":"100℃","w":1538.51,"p":-22.8},
{"t":"100℃","w":1539.0,"p":-22.9},{"t":"100℃","w":1539.25,"p":-22.88},{"t":"100℃","w":1539.5,"p":-22.86},{"t":"100℃","w":1539.75,"p":-22.91},{"t":"100℃","w":1540.0,"p":-22.88},{"t":"100℃","w":1540.25,"p":-22.92},{"t":"100℃","w":1540.5,"p":-22.87},{"t":"100℃","w":1540.75,"p":-22.9},{"t":"100℃","w":1541.0,"p":-22.88},
{"t":"110℃","w":1535.0,"p":-23.0},{"t":"110℃","w":1535.8,"p":-22.99},{"t":"110℃","w":1536.4,"p":-23.0},
{"t":"110℃","w":1537.35,"p":-22.9},{"t":"110℃","w":1537.4,"p":-22.46},{"t":"110℃","w":1537.45,"p":-21.76},{"t":"110℃","w":1537.5,"p":-20.76},{"t":"110℃","w":1537.54,"p":-19.4},{"t":"110℃","w":1537.57,"p":-16.6},{"t":"110℃","w":1537.6,"p":-13.1},{"t":"110℃","w":1537.625,"p":-10.1},{"t":"110℃","w":1537.65,"p":-8.3},{"t":"110℃","w":1537.68,"p":-7.12},{"t":"110℃","w":1537.72,"p":-6.42},{"t":"110℃","w":1537.77,"p":-6.1},{"t":"110℃","w":1537.81,"p":-6.36},{"t":"110℃","w":1537.85,"p":-7.2},{"t":"110℃","w":1537.88,"p":-8.45},{"t":"110℃","w":1537.91,"p":-10.05},{"t":"110℃","w":1537.95,"p":-12.65},{"t":"110℃","w":1537.99,"p":-15.1},{"t":"110℃","w":1538.04,"p":-17.6},{"t":"110℃","w":1538.09,"p":-19.55},{"t":"110℃","w":1538.15,"p":-20.95},{"t":"110℃","w":1538.22,"p":-21.8},{"t":"110℃","w":1538.32,"p":-22.28},{"t":"110℃","w":1538.45,"p":-22.5},{"t":"110℃","w":1538.59,"p":-22.78},
{"t":"110℃","w":1539.0,"p":-22.88},{"t":"110℃","w":1539.25,"p":-22.92},{"t":"110℃","w":1539.5,"p":-22.88},{"t":"110℃","w":1539.75,"p":-22.9},{"t":"110℃","w":1540.0,"p":-22.86},{"t":"110℃","w":1540.25,"p":-22.9},{"t":"110℃","w":1540.5,"p":-22.88},{"t":"110℃","w":1540.75,"p":-22.92},{"t":"110℃","w":1541.0,"p":-22.89},
{"t":"120℃","w":1535.0,"p":-22.99},{"t":"120℃","w":1535.8,"p":-23.0},{"t":"120℃","w":1536.4,"p":-22.98},
{"t":"120℃","w":1537.42,"p":-22.88},{"t":"120℃","w":1537.47,"p":-22.44},{"t":"120℃","w":1537.52,"p":-21.74},{"t":"120℃","w":1537.57,"p":-20.75},{"t":"120℃","w":1537.61,"p":-19.4},{"t":"120℃","w":1537.64,"p":-16.6},{"t":"120℃","w":1537.67,"p":-13.1},{"t":"120℃","w":1537.695,"p":-10.1},{"t":"120℃","w":1537.72,"p":-8.3},{"t":"120℃","w":1537.75,"p":-7.1},{"t":"120℃","w":1537.79,"p":-6.4},{"t":"120℃","w":1537.84,"p":-6.08},{"t":"120℃","w":1537.88,"p":-6.35},{"t":"120℃","w":1537.92,"p":-7.2},{"t":"120℃","w":1537.95,"p":-8.45},{"t":"120℃","w":1537.98,"p":-10.0},{"t":"120℃","w":1538.02,"p":-12.6},{"t":"120℃","w":1538.06,"p":-15.0},{"t":"120℃","w":1538.11,"p":-17.45},{"t":"120℃","w":1538.16,"p":-19.4},{"t":"120℃","w":1538.22,"p":-20.85},{"t":"120℃","w":1538.29,"p":-21.75},{"t":"120℃","w":1538.39,"p":-22.2},{"t":"120℃","w":1538.52,"p":-22.45},{"t":"120℃","w":1538.66,"p":-22.75},
{"t":"120℃","w":1539.0,"p":-22.86},{"t":"120℃","w":1539.25,"p":-22.89},{"t":"120℃","w":1539.5,"p":-22.85},{"t":"120℃","w":1539.75,"p":-22.88},{"t":"120℃","w":1540.0,"p":-22.84},{"t":"120℃","w":1540.25,"p":-22.89},{"t":"120℃","w":1540.5,"p":-22.86},{"t":"120℃","w":1540.75,"p":-22.88},{"t":"120℃","w":1541.0,"p":-22.85},
{"t":"130℃","w":1535.0,"p":-23.0},{"t":"130℃","w":1535.8,"p":-22.98},{"t":"130℃","w":1536.4,"p":-23.0},
{"t":"130℃","w":1537.5,"p":-22.9},{"t":"130℃","w":1537.55,"p":-22.46},{"t":"130℃","w":1537.6,"p":-21.76},{"t":"130℃","w":1537.65,"p":-20.76},{"t":"130℃","w":1537.69,"p":-19.4},{"t":"130℃","w":1537.72,"p":-16.6},{"t":"130℃","w":1537.75,"p":-13.1},{"t":"130℃","w":1537.775,"p":-10.1},{"t":"130℃","w":1537.8,"p":-8.3},{"t":"130℃","w":1537.83,"p":-7.12},{"t":"130℃","w":1537.87,"p":-6.42},{"t":"130℃","w":1537.92,"p":-6.1},{"t":"130℃","w":1537.96,"p":-6.38},{"t":"130℃","w":1538.0,"p":-7.2},{"t":"130℃","w":1538.03,"p":-8.4},{"t":"130℃","w":1538.06,"p":-9.95},{"t":"130℃","w":1538.1,"p":-12.5},{"t":"130℃","w":1538.14,"p":-14.9},{"t":"130℃","w":1538.19,"p":-17.3},{"t":"130℃","w":1538.24,"p":-19.3},{"t":"130℃","w":1538.3,"p":-20.75},{"t":"130℃","w":1538.37,"p":-21.7},{"t":"130℃","w":1538.47,"p":-22.15},{"t":"130℃","w":1538.6,"p":-22.4},{"t":"130℃","w":1538.74,"p":-22.72},
{"t":"130℃","w":1539.0,"p":-22.85},{"t":"130℃","w":1539.25,"p":-22.88},{"t":"130℃","w":1539.5,"p":-22.86},{"t":"130℃","w":1539.75,"p":-22.89},{"t":"130℃","w":1540.0,"p":-22.85},{"t":"130℃","w":1540.25,"p":-22.88},{"t":"130℃","w":1540.5,"p":-22.84},{"t":"130℃","w":1540.75,"p":-22.87},{"t":"130℃","w":1541.0,"p":-22.86},
{"t":"140℃","w":1535.0,"p":-22.98},{"t":"140℃","w":1535.8,"p":-23.0},{"t":"140℃","w":1536.4,"p":-22.99},
{"t":"140℃","w":1537.58,"p":-22.88},{"t":"140℃","w":1537.63,"p":-22.45},{"t":"140℃","w":1537.68,"p":-21.75},{"t":"140℃","w":1537.73,"p":-20.75},{"t":"140℃","w":1537.77,"p":-19.4},{"t":"140℃","w":1537.8,"p":-16.6},{"t":"140℃","w":1537.83,"p":-13.1},{"t":"140℃","w":1537.855,"p":-10.1},{"t":"140℃","w":1537.88,"p":-8.3},{"t":"140℃","w":1537.91,"p":-7.15},{"t":"140℃","w":1537.95,"p":-6.45},{"t":"140℃","w":1538.0,"p":-6.12},{"t":"140℃","w":1538.04,"p":-6.42},{"t":"140℃","w":1538.08,"p":-7.25},{"t":"140℃","w":1538.11,"p":-8.4},{"t":"140℃","w":1538.14,"p":-9.9},{"t":"140℃","w":1538.18,"p":-12.4},{"t":"140℃","w":1538.22,"p":-14.8},{"t":"140℃","w":1538.27,"p":-17.2},{"t":"140℃","w":1538.32,"p":-19.2},{"t":"140℃","w":1538.38,"p":-20.7},{"t":"140℃","w":1538.45,"p":-21.65},{"t":"140℃","w":1538.55,"p":-22.1},{"t":"140℃","w":1538.68,"p":-22.4},{"t":"140℃","w":1538.82,"p":-22.7},
{"t":"140℃","w":1539.0,"p":-22.86},{"t":"140℃","w":1539.25,"p":-22.84},{"t":"140℃","w":1539.5,"p":-22.88},{"t":"140℃","w":1539.75,"p":-22.85},{"t":"140℃","w":1540.0,"p":-22.87},{"t":"140℃","w":1540.25,"p":-22.84},{"t":"140℃","w":1540.5,"p":-22.88},{"t":"140℃","w":1540.75,"p":-22.86},{"t":"140℃","w":1541.0,"p":-22.87}
]
},
"hconcat":[
{
 "width":1095,"height":806,
 "title":{"text":"(a) Heating","orient":"bottom","anchor":"middle","font":"Liberation Serif","fontSize":97,"fontWeight":"normal","color":"black","offset":96,"dx":-12},
 "resolve":{"axis":{"x":"independent","y":"independent"}},
 "layer":[
  {"data":{"name":"heat"},
   "mark":{"type":"line","clip":true,"strokeWidth":2},
   "encoding":{
    "x":{"field":"w","type":"quantitative","scale":{"domain":[1535,1541],"nice":false,"zero":false},
         "axis":{"orient":"bottom","title":"Wavelength(nm)","values":[1536,1537,1538,1539,1540],"labelExpr":"datum.value % 2 == 0 ? '' + datum.value : ''","tickSize":{"condition":{"test":"datum.value % 2 != 0","value":-9},"value":-17},"labelPadding":38,"titlePadding":10}},
    "y":{"field":"p","type":"quantitative","scale":{"domain":[-23,-5],"nice":false,"zero":false},
         "axis":{"orient":"left","title":"Power(dB)","values":[-22.5,-20,-17.5,-15,-12.5,-10,-7.5,-5],"labelExpr":"datum.value % 5 == 0 ? '' + datum.value : ''","tickSize":{"condition":{"test":"datum.value % 5 != 0","value":-9},"value":-17},"labelPadding":34,"titlePadding":60}},
    "color":{"field":"t","type":"nominal",
      "scale":{"domain":["30℃","40℃","50℃","60℃","70℃","80℃","90℃","100℃","110℃","120℃","130℃","140℃"],
               "range":["#000000","#FF0000","#0000FF","#FF00FF","#008000","#000080","#8000FF","#800080","#800000","#808000","#336699","#1A9696"]},
      "legend":{"orient":"none","legendX":819.5,"legendY":184.5,"title":null,"padding":0,"symbolType":"M-3,0L3,0","symbolSize":693,"symbolStrokeWidth":2.5,"labelFontSize":34,"labelAlign":"right","labelOffset":119.5,"rowPadding":7.9,"labelLimit":0}}
   }},
  {"data":{"name":"arrA"},
   "mark":{"type":"rule","color":"black","strokeWidth":2},
   "encoding":{
    "x":{"field":"x1","type":"quantitative","scale":{"domain":[1535,1541],"nice":false,"zero":false},
         "axis":{"orient":"top","title":null,"labels":false,"values":[1536,1537,1538,1539,1540],"tickSize":{"condition":{"test":"datum.value % 2 != 0","value":-9},"value":-17}}},
    "x2":{"field":"x2"},
    "y":{"field":"y","type":"quantitative","scale":{"domain":[-23,-5],"nice":false,"zero":false},
         "axis":{"orient":"right","title":null,"labels":false,"values":[-22.5,-20,-17.5,-15,-12.5,-10,-7.5,-5],"tickSize":{"condition":{"test":"datum.value % 5 != 0","value":-9},"value":-17}}}
   }},
  {"data":{"name":"arrA"},
   "mark":{"type":"point","shape":"M-1,-0.45L1,0L-1,0.45Z","filled":true,"color":"black","opacity":1,"size":484},
   "encoding":{
    "x":{"field":"xh","type":"quantitative","scale":{"domain":[1535,1541],"nice":false,"zero":false},"axis":null},
    "y":{"field":"y","type":"quantitative","scale":{"domain":[-23,-5],"nice":false,"zero":false},"axis":null}
   }}
 ]
},
{
 "width":1104,"height":814,
 "title":{"text":"(b) Cooling","orient":"bottom","anchor":"middle","font":"Liberation Serif","fontSize":97,"fontWeight":"normal","color":"black","offset":84,"dx":-20},
 "resolve":{"axis":{"x":"independent","y":"independent"}},
 "layer":[
  {"data":{"name":"cool"},
   "mark":{"type":"line","clip":true,"strokeWidth":3,"strokeDash":[14,9]},
   "encoding":{
    "x":{"field":"w","type":"quantitative","scale":{"domain":[1535,1541],"nice":false,"zero":false},
         "axis":{"orient":"bottom","title":"Wavelength(nm)","values":[1536,1537,1538,1539,1540],"labelExpr":"datum.value % 2 == 0 ? '' + datum.value : ''","tickSize":{"condition":{"test":"datum.value % 2 != 0","value":-9},"value":-17},"labelPadding":38,"titlePadding":10}},
    "y":{"field":"p","type":"quantitative","scale":{"domain":[-23,-5],"nice":false,"zero":false},
         "axis":{"orient":"left","title":"Power(dB)","values":[-22.5,-20,-17.5,-15,-12.5,-10,-7.5,-5],"labelExpr":"datum.value % 5 == 0 ? '' + datum.value : ''","tickSize":{"condition":{"test":"datum.value % 5 != 0","value":-9},"value":-17},"labelPadding":35,"titlePadding":60}},
    "color":{"field":"t","type":"nominal",
      "scale":{"domain":["140℃","130℃","120℃","110℃","100℃","90℃","80℃","70℃","60℃","50℃","40℃","30℃"],
               "range":["#9C5E19","#17C940","#C0287E","#2BC3CF","#3C3C96","#96AA32","#828282","#966464","#649664","#28A4D0","#326496","#000000"]},
      "legend":{"orient":"none","legendX":861.5,"legendY":172.5,"title":null,"padding":0,"symbolType":"M-3,0L3,0","symbolSize":529,"symbolStrokeWidth":3.3,"symbolDash":[15,12],"labelFontSize":34,"labelAlign":"right","labelOffset":126.5,"rowPadding":8.4,"labelLimit":0}}
   }},
  {"data":{"name":"arrB"},
   "mark":{"type":"rule","color":"black","strokeWidth":2},
   "encoding":{
    "x":{"field":"x1","type":"quantitative","scale":{"domain":[1535,1541],"nice":false,"zero":false},
         "axis":{"orient":"top","title":null,"labels":false,"values":[1536,1537,1538,1539,1540],"tickSize":{"condition":{"test":"datum.value % 2 != 0","value":-9},"value":-17}}},
    "x2":{"field":"x2"},
    "y":{"field":"y","type":"quantitative","scale":{"domain":[-23,-5],"nice":false,"zero":false},
         "axis":{"orient":"right","title":null,"labels":false,"values":[-22.5,-20,-17.5,-15,-12.5,-10,-7.5,-5],"tickSize":{"condition":{"test":"datum.value % 5 != 0","value":-9},"value":-17}}}
   }},
  {"data":{"name":"arrB"},
   "mark":{"type":"point","shape":"M1,-0.45L-1,0L1,0.45Z","filled":true,"color":"black","opacity":1,"size":484},
   "encoding":{
    "x":{"field":"xh","type":"quantitative","scale":{"domain":[1535,1541],"nice":false,"zero":false},"axis":null},
    "y":{"field":"y","type":"quantitative","scale":{"domain":[-23,-5],"nice":false,"zero":false},"axis":null}
   }}
 ]
}
]
}
